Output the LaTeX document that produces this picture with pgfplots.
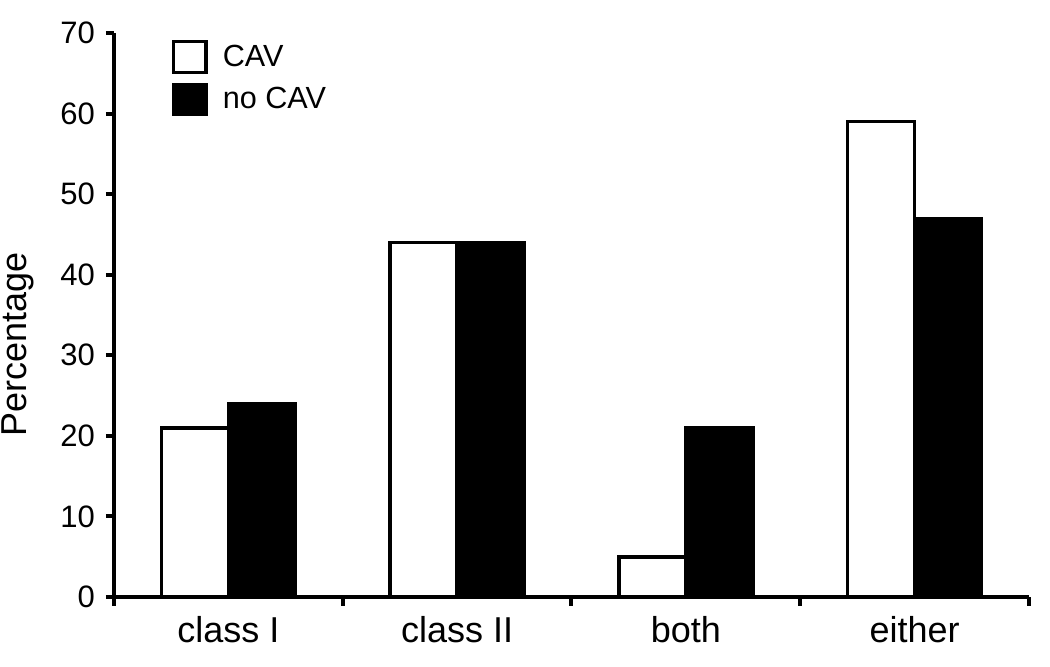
\documentclass[border=0pt]{standalone}
\usepackage{pgfplots}
\pgfplotsset{compat=1.18}
\usepackage{fontspec}
\setmainfont{Liberation Sans}
\begin{document}
\begin{tikzpicture}
\path[use as bounding box] (-57pt,-35pt) rectangle (468pt,298.5pt);
\begin{axis}[
  at={(0,0)}, anchor=south west,
  scale only axis,
  width=457.5pt, height=282pt,
  ybar=0pt, bar width=33.5pt,
  xmin=-0.5, xmax=3.5, ymin=0, ymax=70,
  axis x line*=bottom, axis y line*=left,
  axis line style={line width=2pt, -},
  xtick={0,1,2,3},
  xticklabels={class I, class II, both, either},
  major x tick style={draw=none},
  minor xtick={-0.5,0.5,1.5,2.5,3.5},
  minor x tick style={line width=2pt, black},
  minor tick length=4.5pt,
  ytick={0,10,...,70},
  y tick style={line width=2pt, black},
  major tick length=4pt,
  tick align=outside,
  /pgf/number format/assume math mode=true,
  yticklabel style={font=\fontsize{15.5}{18}\selectfont, xshift=-2pt},
  xticklabel style={font=\fontsize{18}{21}\selectfont, yshift=-2pt},
  ylabel={Percentage},
  ylabel style={font=\fontsize{18}{21}\selectfont, at={(axis description cs:-0.1235,0.447)}, anchor=north, inner sep=0pt, rotate=0},
  legend style={draw=none, at={(axis description cs:0.063,0.988)}, anchor=north west,
    font=\fontsize{15.3}{18}\selectfont, row sep=4.5pt, inner sep=0pt,
    nodes={inner sep=0pt, anchor=west}},
  legend cell align=left,
  legend image code/.code={\draw[#1, line width=1.6pt] (0pt,-7.6pt) rectangle (16.2pt,7.6pt); \path (16.2pt,0) ++(7.5pt,0);},
]
\addplot[draw=black, fill=white, line width=1.8pt] coordinates {(0,21) (1,44) (2,5) (3,59)};
\addplot[draw=black, fill=black, line width=1.8pt] coordinates {(0,24) (1,44) (2,21) (3,47)};
\legend{CAV, no CAV}
\end{axis}
\end{tikzpicture}
\end{document}
